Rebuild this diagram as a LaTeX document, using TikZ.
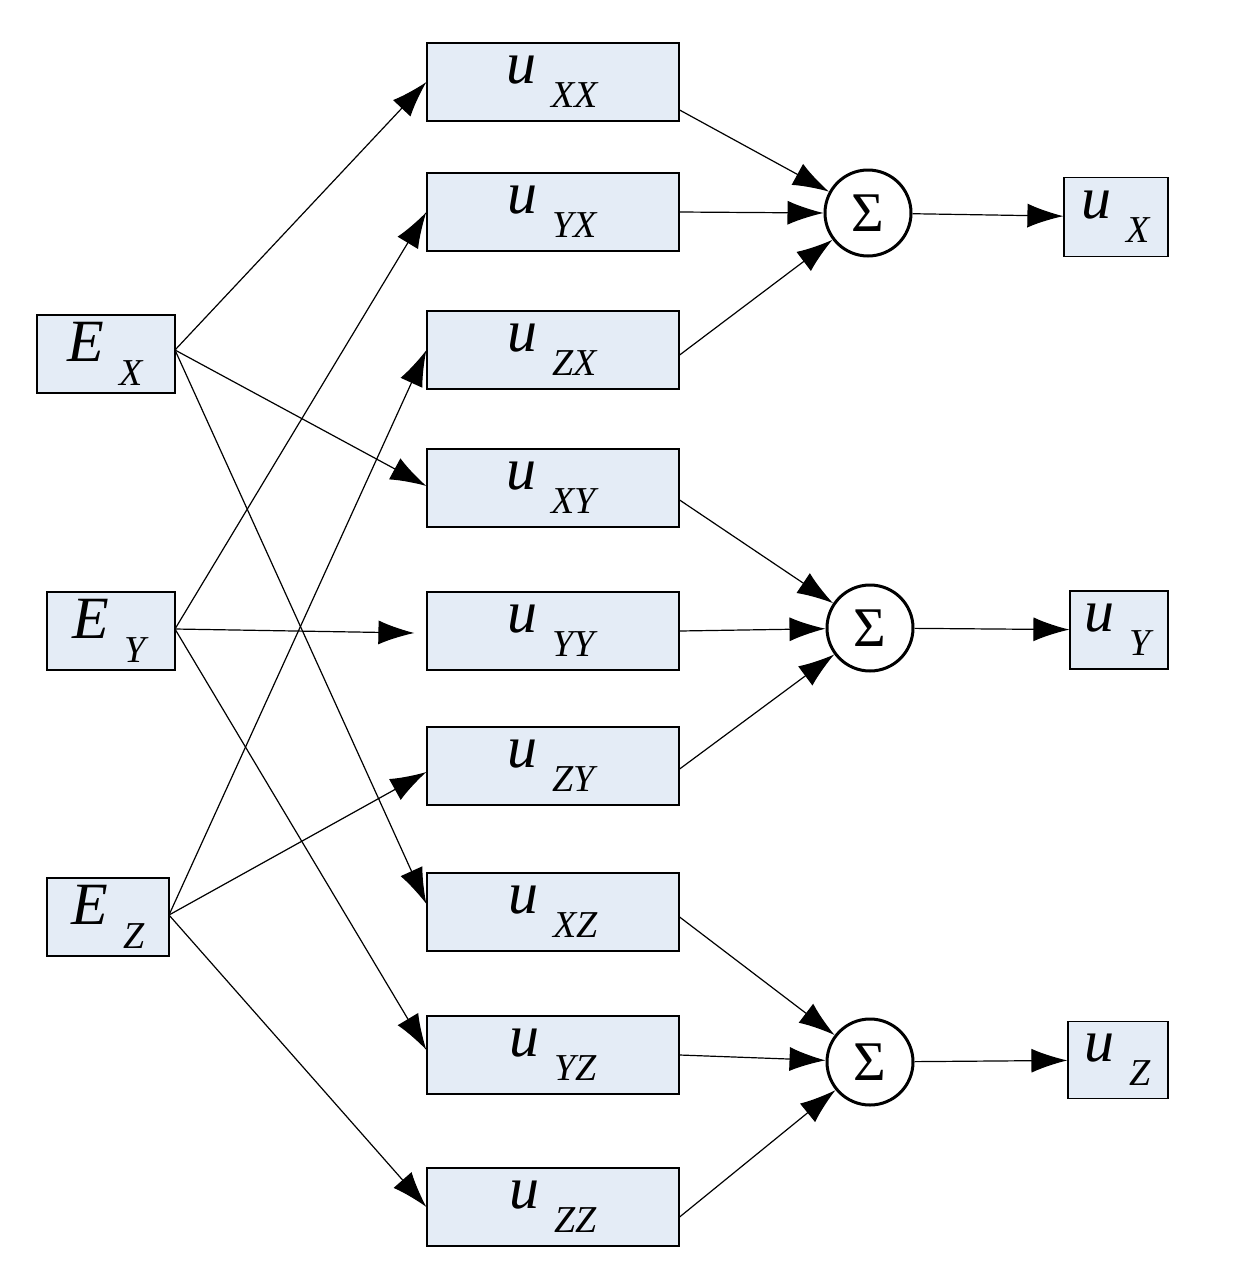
\documentclass[tikz,border=0pt]{standalone}
\usepackage{fontspec}
\setmainfont{Liberation Serif}
\usetikzlibrary{arrows.meta}
\definecolor{boxfill}{RGB}{228,236,246}
\newcommand{\mylab}[2]{\textit{#1}\hspace{0.25em}\raisebox{-0.4em}{\fontsize{38}{40}\selectfont\textit{#2}}}
\begin{document}
\begin{tikzpicture}[x=1pt,y=-1pt,
  bx/.style={draw,fill=boxfill,line width=1.2pt,inner sep=0pt,font=\fontsize{60}{64}\selectfont},
  ub/.style={bx,minimum width=252pt,minimum height=78pt},
  sg/.style={draw,circle,line width=3pt,minimum size=86pt,inner sep=0pt,font=\fontsize{56}{60}\selectfont},
  ar/.style={-{Latex[length=36pt,width=24pt]},line width=1.2pt}]
\useasboundingbox (0,0) rectangle (1251,1264);
\node[bx,minimum width=138pt,minimum height=78pt] (ex) at (106,354) {\mylab{E}{X}};
\node[bx,minimum width=128pt,minimum height=78pt] (ey) at (111,631) {\mylab{E}{Y}};
\node[bx,minimum width=122pt,minimum height=78pt] (ez) at (108,917) {\mylab{E}{Z}};
\node[ub] (xx) at (553,82) {\mylab{u}{XX}};
\node[ub] (yx) at (553,212) {\mylab{u}{YX}};
\node[ub] (zx) at (553,350) {\mylab{u}{ZX}};
\node[ub] (xy) at (553,488) {\mylab{u}{XY}};
\node[ub] (yy) at (553,631) {\mylab{u}{YY}};
\node[ub] (zy) at (553,766) {\mylab{u}{ZY}};
\node[ub] (xz) at (553,912) {\mylab{u}{XZ}};
\node[ub] (yz) at (553,1055) {\mylab{u}{YZ}};
\node[ub] (zz) at (553,1207) {\mylab{u}{ZZ}};
\node[sg] (s1) at (868,213) {Σ};
\node[sg] (s2) at (870,628) {Σ};
\node[sg] (s3) at (870,1062) {Σ};
\node[bx,minimum width=104pt,minimum height=79pt] (ux) at (1116,217) {\mylab{u}{X}};
\node[bx,minimum width=98pt,minimum height=78pt] (uy) at (1119,630) {\mylab{u}{Y}};
\node[bx,minimum width=100pt,minimum height=77pt] (uz) at (1118,1060) {\mylab{u}{Z}};
\coordinate (ex1) at (175,350); \coordinate (ey1) at (175,629); \coordinate (ez1) at (169,915);
\draw[ar] (ex1) -- (xx.west);
\draw[ar] (ex1) -- ([yshift=2pt]xy.west);
\draw[ar] (ex1) -- ([yshift=8pt]xz.west);
\draw[ar] (ey1) -- (yx.west);
\draw[ar] (ey1) -- ([xshift=-12pt,yshift=-2pt]yy.west);
\draw[ar] (ey1) -- ([yshift=5pt]yz.west);
\draw[ar] (ez1) -- (zx.west);
\draw[ar] (ez1) -- ([yshift=-6pt]zy.west);
\draw[ar] (ez1) -- (zz.west);
\draw[ar] ([yshift=-28pt]xx.east) -- (s1);
\draw[ar] (yx.east) -- (s1.west);
\draw[ar] ([yshift=-5pt]zx.east) -- (s1);
\draw[ar] ([yshift=-12pt]xy.east) -- (s2);
\draw[ar] (yy.east) -- (s2);
\draw[ar] ([yshift=-3pt]zy.east) -- (s2);
\draw[ar] ([yshift=-5pt]xz.east) -- (s3);
\draw[ar] (yz.east) -- (s3);
\draw[ar] ([yshift=-10pt]zz.east) -- (s3);
\draw[ar] (s1) -- (ux);
\draw[ar] (s2) -- (uy);
\draw[ar] (s3) -- (uz);
\end{tikzpicture}
\end{document}
